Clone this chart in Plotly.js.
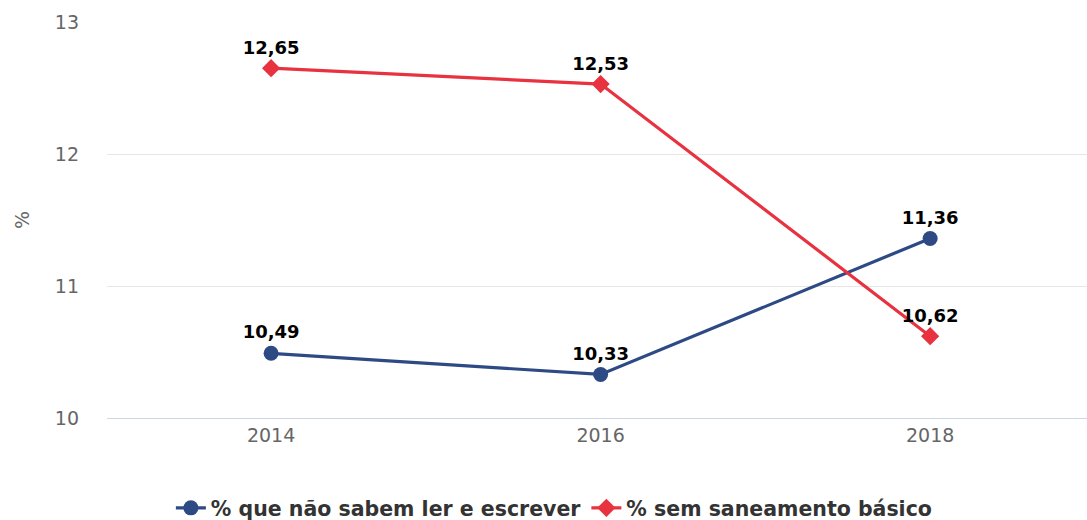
<!DOCTYPE html>
<html>
<head>
<meta charset="utf-8">
<script src="https://cdn.plot.ly/plotly-3.0.1.min.js"></script>
<style>html,body{margin:0;padding:0;background:#fff;}#chart{width:1087px;height:520px;}</style>
</head>
<body>
<div id="chart"></div>
<script>
const years = ["2014", "2016", "2018"];
const naoSabemLer = [10.49, 10.33, 11.36];
const semSaneamento = [12.65, 12.53, 10.62];
const seriesNames = ["% que não sabem ler e escrever", "% sem saneamento básico"];
const yTicks = [10, 11, 12, 13];

const labelFont = {family: "DejaVu Sans", size: 18, color: "#000", weight: "bold"};

const traces = [
  {
    x: years, y: naoSabemLer, name: seriesNames[0], type: "scatter", mode: "lines+markers+text",
    line: {color: "#2d4a85", width: 3.2},
    marker: {symbol: "circle", size: 15, color: "#2d4a85"},
    texttemplate: "%{y:.2f}", textposition: "top center", textfont: labelFont,
    hoverinfo: "none", cliponaxis: false
  },
  {
    x: years, y: semSaneamento, name: seriesNames[1], type: "scatter", mode: "lines+markers+text",
    line: {color: "#e8323f", width: 3.2},
    marker: {symbol: "diamond", size: 14, color: "#e8323f"},
    texttemplate: "%{y:.2f}", textposition: "top center", textfont: labelFont,
    hoverinfo: "none", cliponaxis: false
  }
];

const layout = {
  width: 1087, height: 520,
  margin: {l: 107, r: 0, t: 22, b: 102},
  separators: ",.",
  paper_bgcolor: "#fff", plot_bgcolor: "#fff",
  showlegend: true,
  legend: {
    orientation: "h", xref: "container", yref: "container",
    x: 0.51, xanchor: "center", y: 0.023, yanchor: "middle",
    font: {family: "DejaVu Sans", size: 20.5, color: "#333", weight: "bold"},
    itemwidth: 30, tracegroupgap: 0
  },
  xaxis: {
    type: "category", range: [-0.498, 2.476],
    showgrid: false, zeroline: false,
    showline: true, linecolor: "#ccd6eb", linewidth: 1,
    ticks: "", tickfont: {family: "DejaVu Sans", size: 19, color: "#666"},
    fixedrange: true
  },
  yaxis: {
    range: [10, 13], tickvals: yTicks, ticktext: yTicks.map(String),
    showgrid: true, gridcolor: "#e6e6e6", gridwidth: 1, zeroline: false, showline: false,
    ticks: "", ticklabelstandoff: 27,
    tickfont: {family: "DejaVu Sans", size: 19, color: "#666"},
    title: {text: "%", font: {family: "DejaVu Sans", size: 19, color: "#666"}, standoff: 20},
    fixedrange: true
  }
};

Plotly.newPlot("chart", traces, layout, {displayModeBar: false, staticPlot: true});
</script>
</body>
</html>
